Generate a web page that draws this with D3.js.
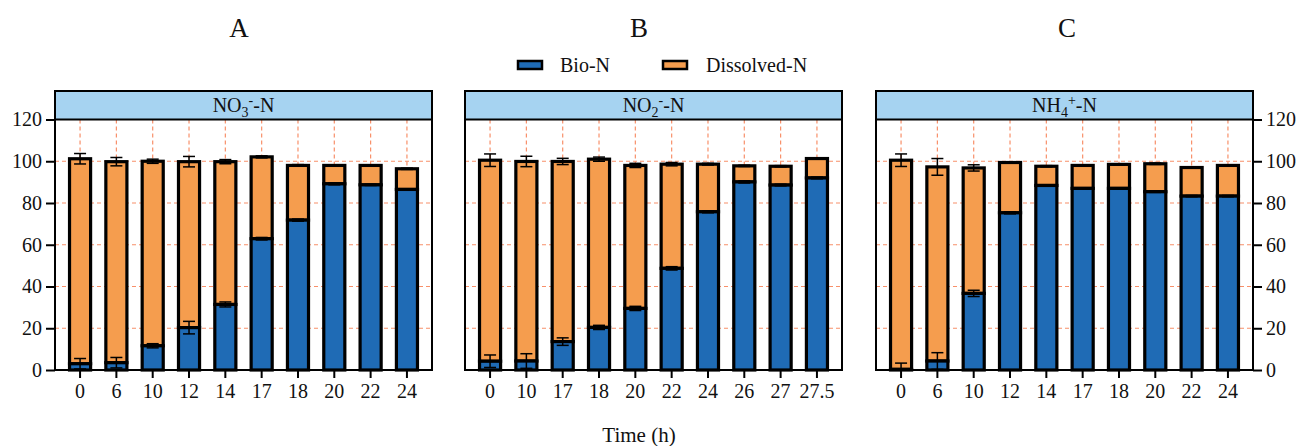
<!DOCTYPE html>
<html>
<head>
<meta charset="utf-8">
<script src="https://cdn.jsdelivr.net/npm/d3@7"></script>
<style>
body { margin: 0; background: #fff; }
svg text { font-family: "Liberation Serif", "DejaVu Serif", serif !important; fill: #111; }
</style>
</head>
<body>
<script>
//Data (values in % of total N)
var timesA = ["0", "6", "10", "12", "14", "17", "18", "20", "22", "24"];
var bioA = [3, 3.5, 11.6, 20.3, 31.4, 62.9, 71.8, 89.2, 88.7, 86.5];
var bioErrA = [2.5, 2.5, 1, 3, 1.2, 0.6, 0.5, 0.5, 0.3, 0.3];
var dissA = [98.2, 96.3, 88.4, 79.5, 68.4, 39.2, 26.2, 8.8, 9.3, 9.9];
var dissErrA = [2.5, 2, 1, 2.5, 1, 0.5, 0.4, 0.3, 0.3, 0.3];

var timesB = ["0", "10", "17", "18", "20", "22", "24", "26", "27", "27.5"];
var bioB = [4.2, 4.3, 13.6, 20.4, 29.5, 48.7, 75.8, 90.1, 88.6, 92];
var bioErrB = [3, 3.5, 1.8, 1, 1, 0.8, 0.5, 0.5, 0.4, 0.4];
var dissB = [96.3, 95.6, 86.3, 80.6, 68.5, 49.9, 22.8, 7.7, 9, 9.3];
var dissErrB = [3, 2.5, 1.5, 1, 1, 0.8, 0.4, 0.3, 0.3, 0.3];

var timesC = ["0", "6", "10", "12", "14", "17", "18", "20", "22", "24"];
var bioC = [0.3, 4.3, 36.7, 75.3, 88.4, 87, 87, 85.4, 83.3, 83.3];
var bioErrC = [3, 4, 1.5, 0.5, 0.3, 0.3, 0.3, 0.3, 0.3, 0.3];
var dissC = [100.2, 93, 60.1, 24.1, 9.2, 11, 11.5, 13.4, 13.7, 14.7];
var dissErrC = [3, 4, 1.5, 0.3, 0.3, 0.3, 0.3, 0.3, 0.3, 0.3];

var yTicks = [0, 20, 40, 60, 80, 100, 120];

//Width and height
var width = 1311;
var height = 446;

var blue = "#1f6bb5";
var orange = "#f59d4e";
var gridColor = "#f8906a";
var headerFill = "#a6d3f1";
var serif = "'Liberation Serif', 'DejaVu Serif', serif";

var svg = d3.select("body")
	.append("svg")
	.attr("width", width)
	.attr("height", height)
	.attr("font-family", serif);

var y = d3.scaleLinear().domain([0, 120]).range([370, 119.5]);
var headerTop = 91;

var panels = [
	{title: "A", titleX: 239, left: 55, right: 432, times: timesA, bio: bioA, bioErr: bioErrA, diss: dissA, dissErr: dissErrA, ion: ["NO", "3", "-"], axis: "left"},
	{title: "B", titleX: 639, left: 465, right: 842, times: timesB, bio: bioB, bioErr: bioErrB, diss: dissB, dissErr: dissErrB, ion: ["NO", "2", "-"], axis: "none"},
	{title: "C", titleX: 1067, left: 876, right: 1253, times: timesC, bio: bioC, bioErr: bioErrC, diss: dissC, dissErr: dissErrC, ion: ["NH", "4", "+"], axis: "right"}
];

panels.forEach(function (p) {
	var x = d3.scaleBand()
		.domain(p.times)
		.range([p.left, p.right])
		.paddingInner(0.42)
		.paddingOuter(0.4);
	var bw = x.bandwidth();
	var g = svg.append("g");

	//grid lines (behind the bars)
	g.selectAll(".hgrid")
		.data(yTicks.filter(function (t) { return t > 0 && t < 120; }))
		.enter().append("line")
		.attr("x1", p.left).attr("x2", p.right)
		.attr("y1", function (d) { return y(d); })
		.attr("y2", function (d) { return y(d); })
		.attr("stroke", gridColor).attr("stroke-width", 1.2)
		.attr("stroke-dasharray", "4,3");
	g.selectAll(".vgrid")
		.data(p.times)
		.enter().append("line")
		.attr("x1", function (d) { return x(d) + bw / 2; })
		.attr("x2", function (d) { return x(d) + bw / 2; })
		.attr("y1", y(120)).attr("y2", y(0))
		.attr("stroke", gridColor).attr("stroke-width", 1.2)
		.attr("stroke-dasharray", "4,3");

	var rows = p.times.map(function (t, i) {
		return {t: t, bio: p.bio[i], bioErr: p.bioErr[i], diss: p.diss[i], dissErr: p.dissErr[i]};
	});

	//dissolved-N stacked on top of bio-N
	g.selectAll(".diss")
		.data(rows)
		.enter().append("rect")
		.attr("x", function (d) { return x(d.t); })
		.attr("width", bw)
		.attr("y", function (d) { return y(d.bio + d.diss); })
		.attr("height", function (d) { return y(d.bio) - y(d.bio + d.diss); })
		.attr("fill", orange).attr("stroke", "#000").attr("stroke-width", 3.2);
	g.selectAll(".bio")
		.data(rows)
		.enter().append("rect")
		.attr("x", function (d) { return x(d.t); })
		.attr("width", bw)
		.attr("y", function (d) { return y(d.bio); })
		.attr("height", function (d) { return y(0) - y(d.bio); })
		.attr("fill", blue).attr("stroke", "#000").attr("stroke-width", 3.2);

	//error bars at the top of each segment
	var errs = [];
	rows.forEach(function (d) {
		errs.push({t: d.t, v: d.bio, e: d.bioErr});
		errs.push({t: d.t, v: d.bio + d.diss, e: d.dissErr});
	});
	var eb = g.selectAll(".err").data(errs).enter().append("g");
	eb.append("line")
		.attr("x1", function (d) { return x(d.t) + bw / 2; })
		.attr("x2", function (d) { return x(d.t) + bw / 2; })
		.attr("y1", function (d) { return y(Math.max(0, d.v - d.e)); })
		.attr("y2", function (d) { return y(d.v + d.e); })
		.attr("stroke", "#000").attr("stroke-width", 1.5);
	[1, -1].forEach(function (s) {
		eb.append("line")
			.attr("x1", function (d) { return x(d.t) + bw / 2 - 6; })
			.attr("x2", function (d) { return x(d.t) + bw / 2 + 6; })
			.attr("y1", function (d) { return y(Math.max(0, d.v + s * d.e)); })
			.attr("y2", function (d) { return y(Math.max(0, d.v + s * d.e)); })
			.attr("stroke", "#000").attr("stroke-width", 1.5);
	});

	//frame and header strip
	g.append("rect")
		.attr("x", p.left).attr("y", headerTop)
		.attr("width", p.right - p.left).attr("height", y(0) - headerTop)
		.attr("fill", "none").attr("stroke", "#000").attr("stroke-width", 2);
	g.append("rect")
		.attr("x", p.left).attr("y", headerTop)
		.attr("width", p.right - p.left).attr("height", y(120) - headerTop)
		.attr("fill", headerFill).attr("stroke", "#000").attr("stroke-width", 2);

	var ht = g.append("text")
		.attr("x", (p.left + p.right) / 2)
		.attr("y", 112)
		.attr("text-anchor", "middle")
		.style("font-size", "20px");
	ht.append("tspan").text(p.ion[0]);
	ht.append("tspan").attr("dy", 5).style("font-size", "14px").text(p.ion[1]);
	ht.append("tspan").attr("dy", -12).style("font-size", "14px").text(p.ion[2]);
	ht.append("tspan").attr("dy", 7).text("-N");

	//x axis
	var xAxis = g.append("g")
		.attr("transform", "translate(0," + y(0) + ")")
		.call(d3.axisBottom(x).tickSize(8).tickPadding(6));
	xAxis.attr("font-family", serif);
	xAxis.select(".domain").remove();
	xAxis.selectAll("line").attr("stroke", "#000").attr("stroke-width", 2);
	xAxis.selectAll("text").style("font-size", "20px");

	//y axis
	if (p.axis !== "none") {
		var ax = p.axis === "left" ? d3.axisLeft(y) : d3.axisRight(y);
		var yAxis = g.append("g")
			.attr("transform", "translate(" + (p.axis === "left" ? p.left : p.right) + ",0)")
			.call(ax.tickValues(yTicks).tickSize(9).tickPadding(4));
		yAxis.attr("font-family", serif);
		yAxis.select(".domain").remove();
		yAxis.selectAll("line").attr("stroke", "#000").attr("stroke-width", 2);
		yAxis.selectAll("text").style("font-size", "20px");
	}

	//panel letter
	svg.append("text")
		.attr("x", p.titleX).attr("y", 37)
		.attr("text-anchor", "middle")
		.style("font-size", "27px")
		.text(p.title);
});

//legend
var legend = [["Bio-N", blue, 518, 560], ["Dissolved-N", orange, 663, 706]];
legend.forEach(function (l) {
	svg.append("rect")
		.attr("x", l[2]).attr("y", 61)
		.attr("width", 24).attr("height", 8)
		.attr("fill", l[1]).attr("stroke", "#000").attr("stroke-width", 2.5);
	svg.append("text")
		.attr("x", l[3]).attr("y", 72)
		.style("font-size", "20px")
		.text(l[0]);
});

//axis title
svg.append("text")
	.attr("x", 639).attr("y", 442)
	.attr("text-anchor", "middle")
	.style("font-size", "21px")
	.text("Time (h)");
</script>
</body>
</html>
